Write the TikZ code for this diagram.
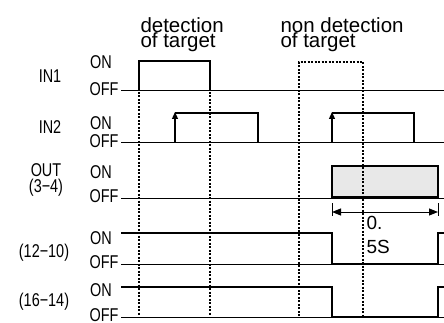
\documentclass[tikz,border=0pt]{standalone}
\usepackage{fontspec}
\setmainfont{Liberation Sans}
\newfontfamily\narrowfont[FakeStretch=0.78]{Liberation Sans}
\usetikzlibrary{arrows.meta, calc}

\begin{document}
\begin{tikzpicture}[
    x=1pt, y=-1pt,
    line width = 1pt,
    black,
    every node/.style={inner sep=0pt},
    sig/.style={line width=1.2pt, line join=miter},
    lowsig/.style={line width=2pt},
    guide/.style={line width=1.3pt, dash pattern=on 2pt off 1.5pt},
    lbl/.style={font=\narrowfont\fontsize{18.5}{18.5}\selectfont},
    head/.style={font=\fontsize{20.5}{15}\selectfont, anchor=base west},
    dimtip/.style={{Triangle[length=9pt, width=7pt]}-{Triangle[length=9pt, width=7pt]}},
    ]

    % Determines the boundries
    \path[use as bounding box] (0,0) rectangle (444,323);

    \def\xL{121}            % start of the traces
    \def\xR{444}            % end of the traces
    \def\tA{139}            % detection starts
    \def\tB{210}            % detection ends
    \def\tC{299}            % non detection starts
    \def\tD{363}            % non detection ends
    \def\tE{332}            % output on
    \def\tF{438}            % output off (0.5S later)
    \def\yBot{316}          % bottom of the guides

    % Headings
    \node[head] (detA) at (\tA+1,33) {detection};
    \node[head] (detB) at (\tA+1,48) {of target};
    \node[head] (ndetA) at (280,33) {non detection};
    \node[head] (ndetB) at (280,48) {of target};

    % OFF levels of each trace
    \foreach \nm/\yo in {IN1/91, IN2/143, OUT/198, RA/264, RB/317}{
        \coordinate (\nm-L) at (\xL,\yo);
        \coordinate (\nm-R) at (\xR,\yo);
        \draw (\nm-L) -- (\nm-R);
    }

    % Names of the traces
    \node[lbl] (nIN1) at (50,76)  {IN1};
    \node[lbl] (nIN2) at (50,127) {IN2};
    \node[lbl] (nOUT) at (46,170) {OUT};
    \node[lbl] (nOUTb) at (46,188) {(3−4)};
    \node[lbl] (nRA) at (44,253) {(12−10)};
    \node[lbl] (nRB) at (44,302) {(16−14)};

    % ON / OFF marks
    \foreach \nm/\yon/\yoff in {IN1/62/89, IN2/123/141, OUT/172/196, RA/238/262, RB/290/315}{
        \node[lbl] (on\nm) at (101,\yon) {ON};
        \node[lbl, anchor=east] (off\nm) at (119,\yoff) {OFF};
    }

    % IN1
    \draw[sig] (\tA,91) -- (\tA,61) -- (\tB,61) -- (\tB,91);

    % IN2
    \foreach \a/\b in {175/258, \tE/414}{
        \draw[sig, -{Triangle[length=7pt, width=6pt]}] (\a,143) -- (\a,112);
        \draw[sig] (\a,113) -- (\b,113) -- (\b,143);
    }

    % OUT
    \draw[sig, fill=gray!18] (\tE,197) rectangle (\tF,166);
    \draw (\tE,203) -- (\tE,216)
          (\tF,203) -- (\tF,216);
    \draw[dimtip] (\tE,212) -- (\tF,212);
    \node[font=\fontsize{19}{19}\selectfont, anchor=west] (tA) at (366,223) {0.};
    \node[font=\fontsize{19}{19}\selectfont, anchor=west] (tB) at (366,247) {5S};

    % Relays
    \foreach \yon/\yoff in {233/264, 287/317}{
        \draw[sig] (\xL,\yon) -- (\tE,\yon) -- (\tE,\yoff);
        \draw[lowsig] (\tE,\yoff) -- (\tF,\yoff);
        \draw[sig] (\tF,\yoff) -- (\tF,\yon) -- (\xR,\yon);
    }

    % Guides
    \draw[guide] (\tA,92) -- (\tA,\yBot)
                 (\tB,92) -- (\tB,\yBot);
    \draw[guide] (\tC,\yBot) -- (\tC,62) -- (\tD,62) -- (\tD,\yBot);
\end{tikzpicture}
\end{document}
